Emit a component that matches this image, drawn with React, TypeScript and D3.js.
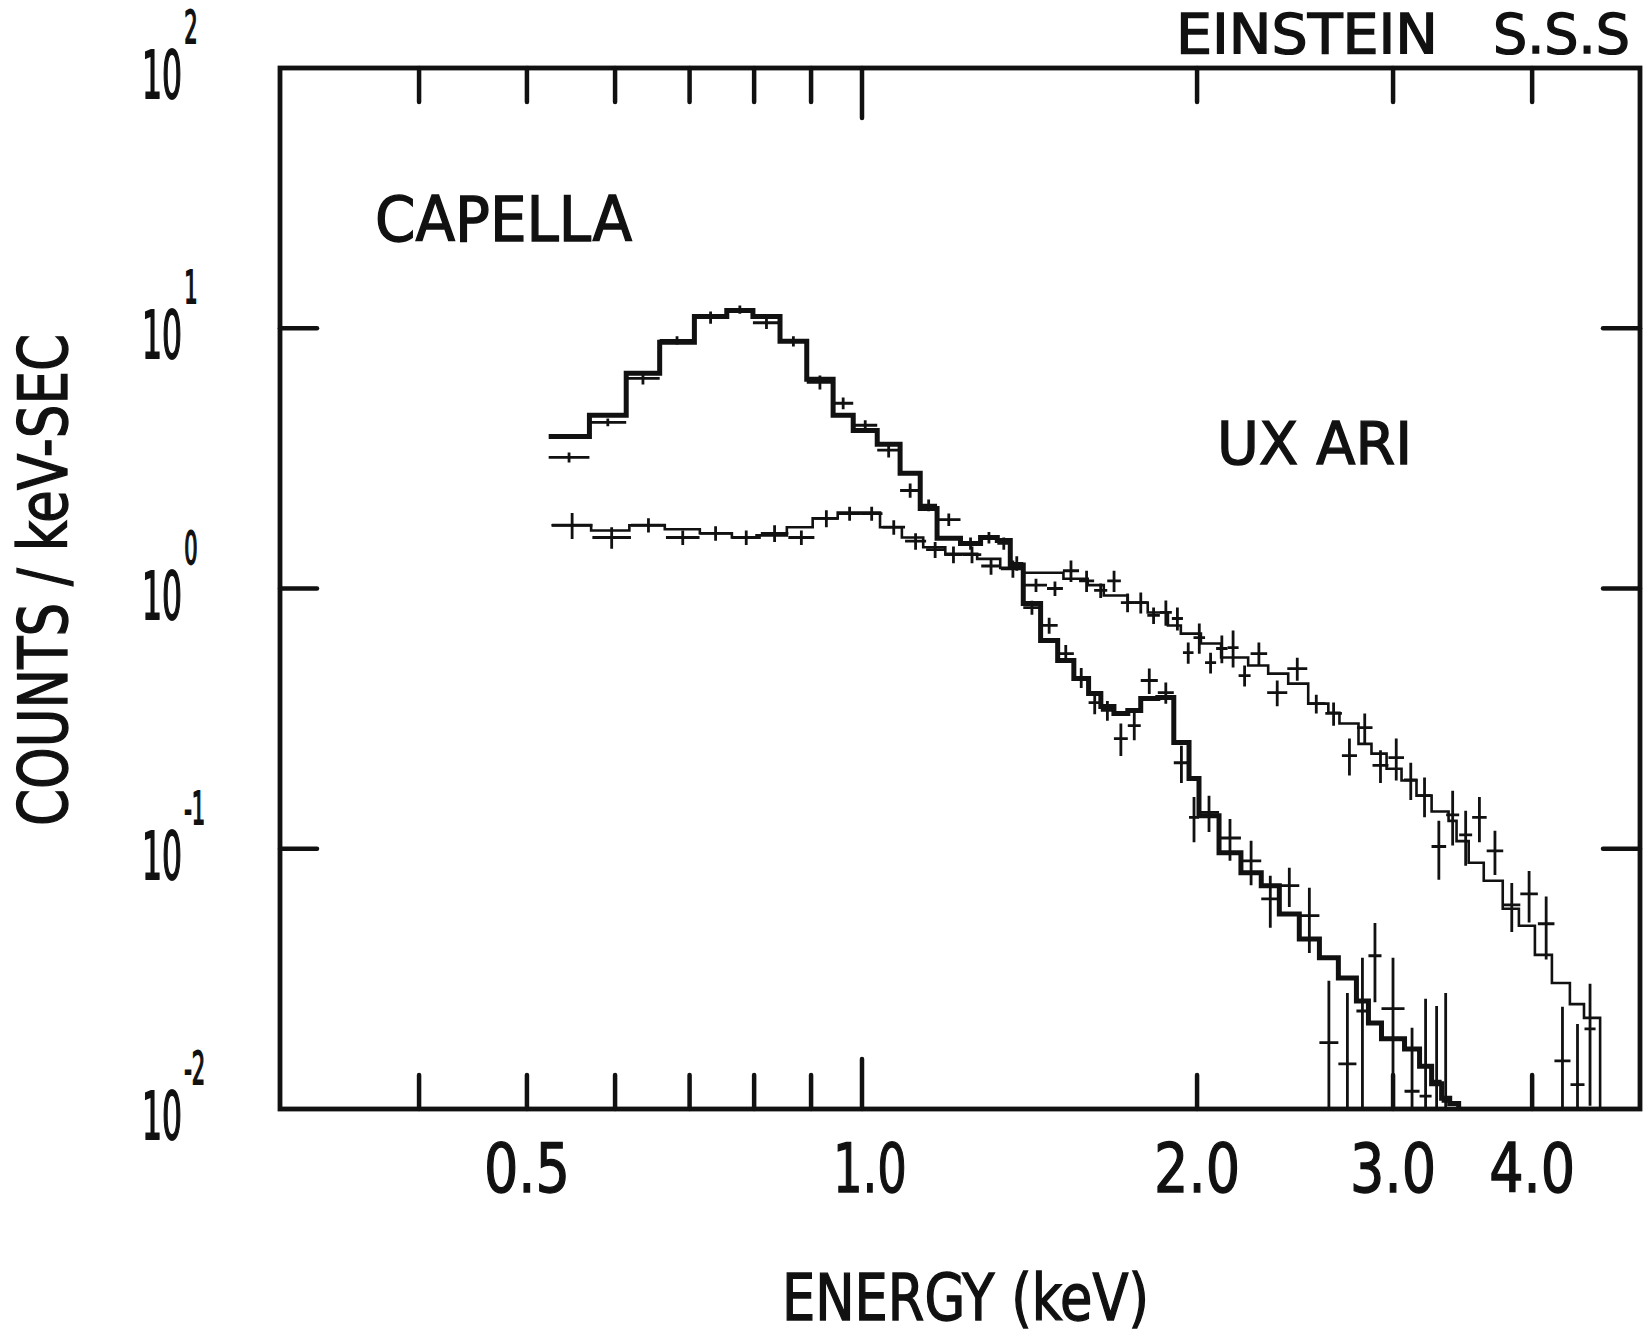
import React, { useEffect, useRef } from 'react';
import * as d3 from 'd3';

// Capella: channel edges (keV), fitted model and observed rate (counts / keV-sec)
const capellaEdges = [0.523, 0.569, 0.614, 0.658, 0.707, 0.756, 0.798, 0.844, 0.892, 0.942, 0.982, 1.032, 1.082, 1.128, 1.168, 1.226, 1.278, 1.323, 1.359, 1.396, 1.447, 1.499, 1.550, 1.598, 1.639, 1.684, 1.733, 1.780, 1.844, 1.906, 1.967, 2.008, 2.093, 2.190, 2.284, 2.371, 2.471, 2.576, 2.679, 2.781, 2.851, 2.929, 3.072, 3.169, 3.249, 3.317, 3.373, 3.436];
const capellaModel = [3.84, 4.63, 6.71, 8.84, 11.1, 11.7, 11.1, 8.91, 6.37, 4.63, 4.05, 3.58, 2.77, 2.03, 1.56, 1.49, 1.57, 1.53, 1.23, 0.876, 0.631, 0.529, 0.451, 0.395, 0.352, 0.331, 0.340, 0.378, 0.381, 0.256, 0.186, 0.134, 0.0965, 0.0808, 0.0721, 0.0562, 0.0450, 0.0381, 0.0319, 0.0260, 0.0214, 0.0186, 0.0170, 0.0146, 0.0125, 0.0110, 0.0105];
const capellaRate = [3.19, 4.35, 6.42, 8.99, 11.0, 11.8, 10.5, 8.91, 6.20, 5.15, 4.24, 3.40, 2.38, 2.09, 1.84, 1.49, 1.57, 1.49, 1.25, 0.845, 0.721, 0.562, 0.455, 0.364, 0.340, 0.265, 0.297, 0.443, 0.398, 0.214, 0.132, 0.138, 0.110, 0.0899, 0.0642, 0.0721, 0.0553, 0.0180, 0.0149, 0.0238, 0.0388, 0.0243, 0.0117, 0.0112, 0.0128, 0.0107, null];
const capellaErr = [0.14, 0.15, 0.34, 0.32, 0.59, 0.42, 0.56, 0.40, 0.38, 0.27, 0.19, 0.21, 0.15, 0.11, 0.10, 0.08, 0.08, 0.08, 0.08, 0.052, 0.051, 0.045, 0.040, 0.035, 0.030, 0.038, 0.036, 0.050, 0.037, 0.035, 0.026, 0.022, 0.020, 0.0175, 0.0145, 0.0124, 0.0155, 0.0131, 0.0130, 0.0143, 0.0131, 0.0138, 0.0088, 0.0153, 0.0121, 0.0172, 0];

// UX Ari: model channel edges + values, observed points
const uxEdges = [0.526, 0.571, 0.618, 0.665, 0.715, 0.764, 0.804, 0.856, 0.903, 0.951, 1.038, 1.086, 1.135, 1.188, 1.269, 1.331, 1.396, 1.517, 1.595, 1.649, 1.733, 1.806, 1.883, 1.934, 2.016, 2.102, 2.223, 2.317, 2.415, 2.517, 2.624, 2.685, 2.793, 2.869, 2.960, 3.053, 3.149, 3.249, 3.365, 3.421, 3.508, 3.619, 3.764, 3.892, 4.023, 4.167, 4.325, 4.453, 4.604];
const uxModel = [1.75, 1.67, 1.75, 1.69, 1.63, 1.57, 1.60, 1.72, 1.86, 1.96, 1.72, 1.57, 1.44, 1.36, 1.30, 1.20, 1.15, 1.09, 1.03, 0.940, 0.884, 0.809, 0.721, 0.671, 0.615, 0.543, 0.506, 0.471, 0.431, 0.361, 0.333, 0.303, 0.253, 0.232, 0.203, 0.183, 0.160, 0.139, 0.128, 0.107, 0.0884, 0.0753, 0.0588, 0.0506, 0.0391, 0.0305, 0.0253, 0.0224];
const uxEnergy = [0.549, 0.597, 0.644, 0.690, 0.740, 0.788, 0.835, 0.883, 0.930, 0.975, 1.021, 1.066, 1.121, 1.163, 1.208, 1.256, 1.304, 1.362, 1.441, 1.492, 1.539, 1.595, 1.638, 1.684, 1.733, 1.780, 1.829, 1.875, 1.922, 1.963, 2.008, 2.059, 2.102, 2.159, 2.200, 2.269, 2.356, 2.466, 2.559, 2.657, 2.741, 2.828, 2.923, 3.021, 3.117, 3.195, 3.303, 3.394, 3.486, 3.581, 3.702, 3.835, 3.973, 4.124, 4.255, 4.407, 4.509];
const uxRate = [1.75, 1.57, 1.75, 1.57, 1.63, 1.57, 1.63, 1.57, 1.86, 1.94, 1.94, 1.72, 1.52, 1.41, 1.35, 1.35, 1.22, 1.19, 1.03, 1.00, 1.17, 1.07, 0.983, 1.07, 0.883, 0.883, 0.788, 0.809, 0.767, 0.567, 0.648, 0.519, 0.588, 0.593, 0.463, 0.562, 0.398, 0.492, 0.361, 0.331, 0.228, 0.292, 0.209, 0.224, 0.184, 0.160, 0.102, 0.135, 0.113, 0.132, 0.0982, 0.0609, 0.0671, 0.0515, 0.0153, 0.0124, 0.0203];
const uxErr = [0.20, 0.15, 0.11, 0.10, 0.105, 0.10, 0.12, 0.10, 0.14, 0.12, 0.12, 0.11, 0.11, 0.10, 0.10, 0.10, 0.09, 0.09, 0.06, 0.064, 0.11, 0.10, 0.063, 0.10, 0.073, 0.082, 0.057, 0.09, 0.078, 0.053, 0.086, 0.048, 0.072, 0.096, 0.043, 0.058, 0.045, 0.050, 0.030, 0.034, 0.037, 0.039, 0.030, 0.041, 0.030, 0.028, 0.026, 0.032, 0.027, 0.026, 0.019, 0.013, 0.015, 0.014, 0.0094, 0.0088, 0.0100];

// axis ticks
const xTickValues = [0.4, 0.5, 0.6, 0.7, 0.8, 0.9, 1.0, 2.0, 3.0, 4.0];
const xLabelValues = [0.5, 1.0, 2.0, 3.0, 4.0];
const xLabelText = ['0.5', '1.0', '2.0', '3.0', '4.0'];
const yDecades = [2, 1, 0, -1, -2];

const WIDTH = 1652;
const HEIGHT = 1334;
const INK = '#111';
const FONT = "'DejaVu Sans Condensed', 'DejaVu Sans', sans-serif";

const SpectrumChart = () => {
    const svgRef = useRef<SVGSVGElement>(null);

    useEffect(() => {
        const svg = d3.select(svgRef.current);
        svg.selectAll('*').remove();

        const frame = { left: 280, right: 1640, top: 68, bottom: 1109 };

        const x = d3.scaleLog().domain([0.3, 5.0]).range([frame.left, frame.right]);
        const y = d3.scaleLog().domain([0.01, 100]).range([frame.bottom, frame.top]);

        svg.append('rect').attr('width', WIDTH).attr('height', HEIGHT).attr('fill', '#fff');

        //clip everything that runs off the bottom
        svg.append('defs').append('clipPath').attr('id', 'plot-area')
            .append('rect')
            .attr('x', frame.left)
            .attr('y', frame.top)
            .attr('width', frame.right - frame.left)
            .attr('height', frame.bottom - frame.top);

        const plot = svg.append('g').attr('clip-path', 'url(#plot-area)');

        const step = d3.line<[number, number]>()
            .x(d => x(d[0]))
            .y(d => y(d[1]))
            .curve(d3.curveStepAfter);

        const histogram = (edges: number[], values: number[]) => {
            const pts: [number, number][] = values.map((v, i) => [edges[i], v]);
            pts.push([edges[edges.length - 1], 0.005]);
            return pts;
        };

        const crossPath = (p: { lo: number; hi: number; v: number; e: number }) => {
            const cx = (x(p.lo) + x(p.hi)) / 2;
            const cy = y(p.v);
            const top = y(p.v + p.e);
            const bot = y(Math.max(p.v - p.e, 1e-4));
            return `M${x(p.lo)},${cy}H${x(p.hi)}M${cx},${top}V${bot}`;
        };

        //capella data points sit on the model channels
        const capellaPoints = capellaRate
            .map((v, i) => (v == null ? null : { lo: capellaEdges[i], hi: capellaEdges[i + 1], v, e: capellaErr[i] }))
            .filter(Boolean) as { lo: number; hi: number; v: number; e: number }[];

        //ux ari points: channel half-widths reach to the neighbours (log midpoint)
        const n = uxEnergy.length;
        const uxPoints = uxEnergy.map((E, i) => {
            const prev = i > 0 ? uxEnergy[i - 1] : (E * E) / uxEnergy[i + 1];
            const next = i < n - 1 ? uxEnergy[i + 1] : (E * E) / uxEnergy[i - 1];
            return { lo: Math.sqrt(prev * E), hi: Math.sqrt(E * next), v: uxRate[i], e: uxErr[i] };
        });

        //ux ari model (thin)
        plot.append('path')
            .datum(histogram(uxEdges, uxModel))
            .attr('fill', 'none')
            .attr('stroke', INK)
            .attr('stroke-width', 2.6)
            .attr('d', step);

        plot.append('g').selectAll('path')
            .data(uxPoints)
            .enter().append('path')
            .attr('d', crossPath)
            .attr('fill', 'none')
            .attr('stroke', INK)
            .attr('stroke-width', 2.8);

        plot.append('g').selectAll('path')
            .data(capellaPoints)
            .enter().append('path')
            .attr('d', crossPath)
            .attr('fill', 'none')
            .attr('stroke', INK)
            .attr('stroke-width', 2.8);

        //capella model (thick)
        plot.append('path')
            .datum(histogram(capellaEdges, capellaModel))
            .attr('fill', 'none')
            .attr('stroke', INK)
            .attr('stroke-width', 5)
            .attr('d', step);

        //frame
        svg.append('rect')
            .attr('x', frame.left)
            .attr('y', frame.top)
            .attr('width', frame.right - frame.left)
            .attr('height', frame.bottom - frame.top)
            .attr('fill', 'none')
            .attr('stroke', INK)
            .attr('stroke-width', 4.8);

        //x ticks on top and bottom
        const ticks = svg.append('g').attr('stroke', INK).attr('stroke-width', 4.5).attr('stroke-linecap', 'round');
        xTickValues.forEach(v => {
            const len = v === 1 ? 50 : 34;
            const tx = x(v);
            ticks.append('line').attr('x1', tx).attr('x2', tx).attr('y1', frame.top).attr('y2', frame.top + len);
            ticks.append('line').attr('x1', tx).attr('x2', tx).attr('y1', frame.bottom).attr('y2', frame.bottom - len);
        });

        //y ticks left and right
        yDecades.filter(p => p < 2 && p > -2).forEach(p => {
            const ty = y(Math.pow(10, p));
            ticks.append('line').attr('x1', frame.left).attr('x2', frame.left + 37).attr('y1', ty).attr('y2', ty);
            ticks.append('line').attr('x1', frame.right).attr('x2', frame.right - 37).attr('y1', ty).attr('y2', ty);
        });

        //lettering: squeezed sans with a light outline to thicken the strokes
        const label = (txt: string, px: number, py: number, size: number, len: number, anchor = 'start') =>
            svg.append('text')
                .attr('x', px)
                .attr('y', py)
                .attr('font-family', FONT)
                .attr('font-size', size)
                .attr('fill', INK)
                .attr('stroke', INK)
                .attr('stroke-width', 1.3)
                .attr('text-anchor', anchor)
                .attr('textLength', len)
                .attr('lengthAdjust', 'spacingAndGlyphs')
                .text(txt);

        //y tick labels 10^p, mantissa and exponent in one text, squeezed sideways
        yDecades.forEach(p => {
            const ty = y(Math.pow(10, p));
            const t = svg.append('text')
                .attr('transform', `translate(142,${ty + 30}) scale(0.53,1)`)
                .attr('font-family', FONT)
                .attr('fill', INK)
                .attr('stroke', INK)
                .attr('stroke-width', 1.8);
            t.append('tspan').attr('font-size', 66).text('10');
            t.append('tspan')
                .attr('font-size', 44)
                .attr('dx', 4)
                .attr('dy', -55)
                .text(p < 0 ? `-${-p}` : `${p}`);
        });

        //x tick labels
        xLabelValues.forEach((v, i) => {
            label(xLabelText[i], x(v) + (v === 1 ? 8 : 0), 1192, 68, v === 1 ? 74 : 86, 'middle');
        });

        //annotations
        label('EINSTEIN', 1176, 53, 55, 262);
        label('S.S.S', 1493, 53, 55, 137);
        label('CAPELLA', 375, 241, 63, 257);
        label('UX ARI', 1217, 464, 59, 195);

        //axis titles
        label('ENERGY (keV)', 782, 1320, 64, 367);
        svg.append('text')
            .attr('transform', 'translate(67,580) rotate(-90)')
            .attr('font-family', FONT)
            .attr('font-size', 67)
            .attr('fill', INK)
            .attr('stroke', INK)
            .attr('stroke-width', 1.3)
            .attr('text-anchor', 'middle')
            .attr('textLength', 492)
            .attr('lengthAdjust', 'spacingAndGlyphs')
            .text('COUNTS / keV-SEC');
    }, []);

    return (
        <svg
            ref={svgRef}
            width={WIDTH}
            height={HEIGHT}
            style={{ position: 'absolute', left: 0, top: 0, display: 'block' }}
        ></svg>
    );
};

export default function App() {
    return <SpectrumChart />;
}
